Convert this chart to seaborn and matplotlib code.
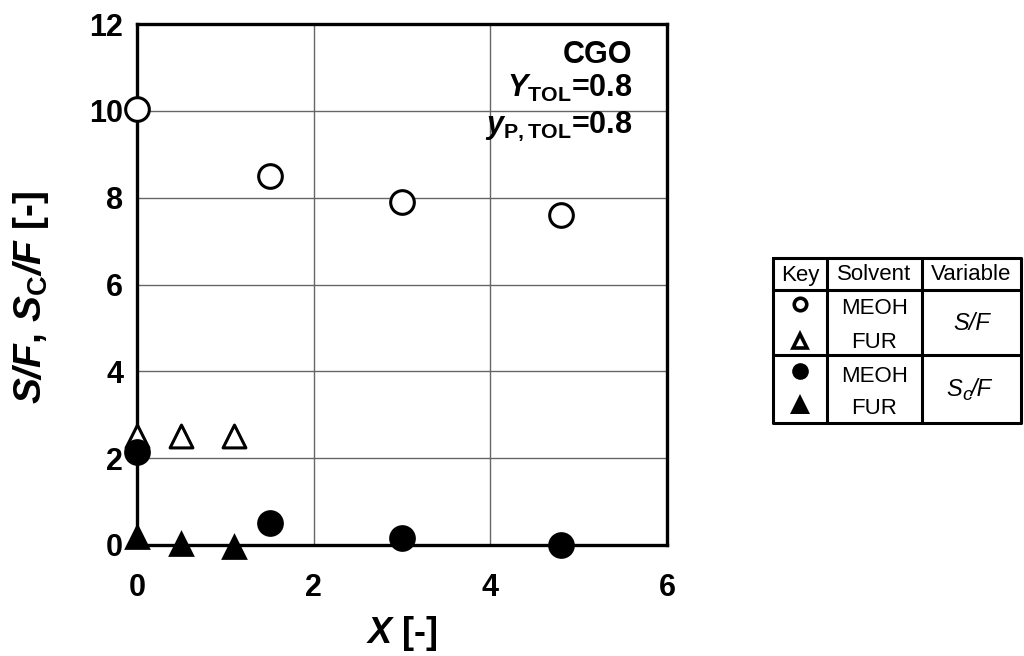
import matplotlib
matplotlib.use("Agg")
import matplotlib.pyplot as plt
import seaborn as sns
import numpy as np

# S/F and Sc/F versus X for CGO, methanol and furfural solvents
x_meoh = [0.0, 1.5, 3.0, 4.8]
sf_meoh = [10.05, 8.5, 7.9, 7.6]
scf_meoh = [2.15, 0.5, 0.15, 0.0]

x_fur = [0.0, 0.5, 1.1]
sf_fur = [2.5, 2.5, 2.5]
scf_fur = [0.2, 0.05, -0.03]

xticks = [0, 2, 4, 6]
yticks = [0, 2, 4, 6, 8, 10, 12]

sns.set_theme(style="white")
plt.rcParams["font.family"] = ["Liberation Sans", "DejaVu Sans"]
plt.rcParams["text.color"] = "black"
plt.rcParams["axes.labelcolor"] = "black"
plt.rcParams["xtick.color"] = "black"
plt.rcParams["ytick.color"] = "black"
plt.rcParams["mathtext.fontset"] = "custom"
plt.rcParams["mathtext.rm"] = "Liberation Sans:bold"
plt.rcParams["mathtext.bf"] = "Liberation Sans:bold"
plt.rcParams["mathtext.it"] = "Liberation Sans:italic:bold"
plt.rcParams["mathtext.bfit"] = "Liberation Sans:italic:bold"

W, H = 1024, 656
fig = plt.figure(figsize=(W / 100, H / 100), dpi=100)
ax = fig.add_axes([137 / W, 1 - 545 / H, 530 / W, 521 / H])

common = dict(ax=ax, clip_on=False, zorder=5, legend=False)
# open symbols: S/F
sns.scatterplot(x=x_meoh, y=sf_meoh, marker="o", s=290, facecolor="white",
                edgecolor="black", linewidth=2.2, **common)
sns.scatterplot(x=x_fur, y=sf_fur, marker="^", s=270, facecolor="white",
                edgecolor="black", linewidth=2.2, **common)
# filled symbols: Sc/F
sns.scatterplot(x=x_meoh, y=scf_meoh, marker="o", s=370, color="black",
                linewidth=0, **common)
sns.scatterplot(x=x_fur, y=scf_fur, marker="^", s=370, color="black",
                linewidth=0, **common)

ax.set_xlim(0, 6)
ax.set_ylim(0, 12)
ax.set_xticks(xticks)
ax.set_yticks(yticks)
ax.set_xticks([1, 3, 5], minor=True)
ax.set_yticks([1, 3, 5, 7, 9, 11], minor=True)
ax.set_xticklabels([str(v) for v in xticks], fontsize=22, fontweight="bold")
ax.set_yticklabels([str(v) for v in yticks], fontsize=22, fontweight="bold")
ax.tick_params(axis="both", which="both", direction="in", color="black",
               width=2.2, length=6, top=False, right=False)
ax.tick_params(axis="x", which="major", pad=20)
ax.tick_params(axis="y", which="major", pad=10)
ax.grid(True, which="major", color="#666666", linewidth=1.0)
ax.set_axisbelow(True)
for sp in ax.spines.values():
    sp.set_visible(True)
    sp.set_color("black")
    sp.set_linewidth(2.4)
    sp.set_zorder(3)

ax.set_xlabel(r"$\mathbfit{X}$ [-]", fontsize=26, fontweight="bold", labelpad=8)
ax.set_ylabel(r"$\mathbfit{S/F}$, $\mathbfit{S}_\mathbf{C}\mathbfit{/F}$ [-]",
              fontsize=28, fontweight="bold")
ax.yaxis.set_label_coords(-0.162, 0.475)

# condition annotation
tx = 5.61
ax.text(tx, 11.1, "CGO", ha="right", va="baseline", fontsize=22, fontweight="bold")
ax.text(tx, 10.32, r"$\mathbfit{Y}_\mathbf{TOL}$=0.8", ha="right", va="baseline",
        fontsize=22, fontweight="bold")
ax.text(tx, 9.49, r"$\mathbfit{y}_\mathbf{P,TOL}$=0.8", ha="right", va="baseline",
        fontsize=22, fontweight="bold")

# key table drawn in pixel coordinates
tab = fig.add_axes([0, 0, 1, 1], zorder=-1)
tab.set_xlim(0, W)
tab.set_ylim(H, 0)
tab.axis("off")
L, C1, C2, R = 773, 827, 922, 1021
T, HB, MID, B = 258, 290, 355, 423
lw = 2.2
tab.plot([L, R, R, L, L], [T, T, B, B, T], color="black", lw=lw)
tab.plot([L, R], [HB, HB], color="black", lw=lw)
tab.plot([L, R], [MID, MID], color="black", lw=lw)
tab.plot([C1, C1], [T, B], color="black", lw=lw)
tab.plot([C2, C2], [T, B], color="black", lw=lw)

fs = 16
kx, sx, vx = (L + C1) / 2, (C1 + C2) / 2, (C2 + R) / 2
for label, xc in [("Key", kx), ("Solvent", sx), ("Variable", vx)]:
    tab.text(xc, 275, label, ha="center", va="center", fontsize=fs)

rows_y = [307, 341, 374, 407]
solvents = ["MEOH", "FUR", "MEOH", "FUR"]
for yv, name in zip(rows_y, solvents):
    tab.text(sx, yv + 2, name, ha="center", va="center", fontsize=fs)

key_style = [("o", "white", 9, 2.6), ("^", "white", 10, 2.6),
             ("o", "black", 12, 0), ("^", "black", 14, 0)]
for yv, (mk, fc, ms, ew) in zip([304, 341, 371, 404], key_style):
    tab.plot([kx], [yv], marker=mk, markersize=ms, markerfacecolor=fc,
             markeredgecolor="black", markeredgewidth=ew, linestyle="none")

tab.text(vx, 323, "S/F", ha="center", va="center", fontsize=fs + 1, style="italic")
tab.text(vx - 9, 390, "S", ha="right", va="center", fontsize=fs + 1, style="italic")
tab.text(vx - 9, 395, "c", ha="left", va="center", fontsize=fs - 2, style="italic")
tab.text(vx - 1, 390, "/F", ha="left", va="center", fontsize=fs + 1, style="italic")

fig.savefig("out.png", dpi=100)
